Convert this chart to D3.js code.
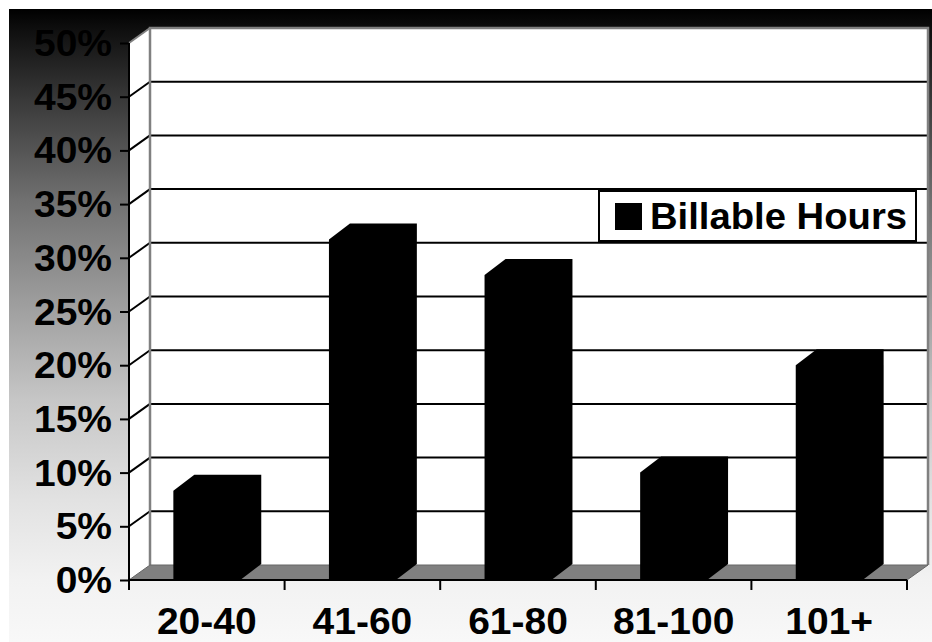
<!DOCTYPE html>
<html>
<head>
<meta charset="utf-8">
<script src="https://cdn.jsdelivr.net/npm/d3@7"></script>
<style>
  html, body { margin: 0; padding: 0; background: #ffffff; }
  svg { display: block; }
  text { font-family: "Liberation Sans", Arial, sans-serif; font-weight: bold; fill: #000; }
</style>
</head>
<body>
<svg id="chart" width="932" height="642"></svg>
<script>
// Share of people in each weekly billable-hours bracket
const categories = ["20-40", "41-60", "61-80", "81-100", "101+"];
const billableHours = [8.3, 31.7, 28.4, 10.0, 20.0];
const yTickValues = [0, 5, 10, 15, 20, 25, 30, 35, 40, 45, 50];
const seriesName = "Billable Hours";

const svg = d3.select("#chart");
const W = 932, H = 642;

// 3-D box geometry: front plane and the depth shift to the back wall
const front = { left: 129, right: 907, bottom: 580, top: 43 };
const depth = { dx: 21, dy: -15 };
const barDepth = { dx: 21, dy: -16 };

const x = d3.scaleBand().domain(categories).range([front.left, front.right]).padding(0);
const y = d3.scaleLinear().domain([0, 50]).range([front.bottom, front.top]);
const barW = x.bandwidth() * 0.43;

// Background: vertical black-to-white gradient
const defs = svg.append("defs");
const grad = defs.append("linearGradient")
  .attr("id", "bg").attr("gradientUnits", "userSpaceOnUse")
  .attr("x1", 0).attr("y1", 9).attr("x2", 0).attr("y2", H);
[[9, "#000000"], [27, "#0d0d0d"], [100, "#393939"], [200, "#707070"], [300, "#9c9c9c"],
 [400, "#c6c6c6"], [500, "#e2e2e2"], [580, "#f2f2f2"], [642, "#f8f8f8"]]
  .forEach(([py, c]) => grad.append("stop").attr("offset", (py - 9) / (H - 9)).attr("stop-color", c));

svg.append("rect").attr("x", 9).attr("y", 9).attr("width", W - 9).attr("height", H - 9)
  .attr("fill", "url(#bg)");

const g = svg.append("g");
const yb = v => y(v) + depth.dy;           // back-wall y for a value
const xBackL = front.left + depth.dx, xBackR = front.right + depth.dx;

// Back wall
g.append("rect")
  .attr("x", xBackL).attr("y", yb(50))
  .attr("width", xBackR - xBackL).attr("height", yb(0) - yb(50))
  .attr("fill", "#ffffff");

// Side wall
g.append("path")
  .attr("d", `M${front.left},${y(0)}L${front.left},${y(50)}L${xBackL},${yb(50)}L${xBackL},${yb(0)}Z`)
  .attr("fill", "#ffffff");

// Gridlines on back and side walls
const grid = yTickValues.filter(v => v > 0 && v < 50);
g.selectAll(".grid-back").data(grid).join("line")
  .attr("x1", xBackL).attr("x2", xBackR)
  .attr("y1", d => yb(d)).attr("y2", d => yb(d))
  .attr("stroke", "#000").attr("stroke-width", 2);
g.selectAll(".grid-side").data(grid).join("line")
  .attr("x1", front.left).attr("x2", xBackL)
  .attr("y1", d => y(d)).attr("y2", d => yb(d))
  .attr("stroke", "#000").attr("stroke-width", 2);

// Wall borders
g.append("path")
  .attr("d", `M${xBackL},${yb(0)}L${xBackL},${yb(50)}L${xBackR},${yb(50)}L${xBackR},${yb(0)}`)
  .attr("fill", "none").attr("stroke", "#808080").attr("stroke-width", 2.5);
g.append("line")
  .attr("x1", front.left).attr("y1", y(50)).attr("x2", xBackL).attr("y2", yb(50))
  .attr("stroke", "#808080").attr("stroke-width", 2);

// Floor
g.append("path")
  .attr("d", `M${front.left},${y(0)}L${front.right},${y(0)}L${xBackR},${yb(0)}L${xBackL},${yb(0)}Z`)
  .attr("fill", "#808080").attr("stroke", "#666666").attr("stroke-width", 1);

// Bars (solid black 3-D columns)
g.selectAll(".bar").data(categories.map((c, i) => ({ c, v: billableHours[i] }))).join("path")
  .attr("class", "bar")
  .attr("fill", "#000")
  .attr("d", d => {
    const xl = x(d.c) + (x.bandwidth() - barW) / 2, xr = xl + barW;
    const y0 = y(0), yt = y(d.v);
    return `M${xl},${y0}L${xl},${yt}L${xl + barDepth.dx},${yt + barDepth.dy}` +
           `L${xr + barDepth.dx},${yt + barDepth.dy}L${xr + barDepth.dx},${y0 + barDepth.dy}L${xr},${y0}Z`;
  });

// Value axis
const yAxis = g.append("g").attr("transform", `translate(${front.left},0)`)
  .call(d3.axisLeft(y).tickValues(yTickValues).tickSize(9).tickFormat(""));
yAxis.select(".domain").attr("stroke", "#000").attr("stroke-width", 2).attr("d", `M0,${y(0)}V${y(50)}`);
yAxis.selectAll(".tick line").attr("stroke", "#000").attr("stroke-width", 2);

g.selectAll(".ylab").data(yTickValues).join("text")
  .attr("class", "ylab")
  .attr("transform", d => `translate(112,${y(d) + 13}) scale(1.04,1)`)
  .attr("text-anchor", "end").attr("font-size", 37.5)
  .text(d => d + "%");

// Category axis: ticks at band boundaries, labels centered in bands
const bounds = categories.map(c => x(c)).concat([front.right]);
g.append("line")
  .attr("x1", front.left).attr("x2", front.right).attr("y1", y(0)).attr("y2", y(0))
  .attr("stroke", "#000").attr("stroke-width", 2);
g.selectAll(".xtick").data(bounds).join("line")
  .attr("x1", d => d).attr("x2", d => d).attr("y1", y(0)).attr("y2", y(0) + 10)
  .attr("stroke", "#000").attr("stroke-width", 2);
g.selectAll(".xlab").data(categories).join("text")
  .attr("class", "xlab")
  .attr("transform", d => `translate(${x(d) + x.bandwidth() / 2},634) scale(1.04,1)`)
  .attr("text-anchor", "middle").attr("font-size", 37.5)
  .text(d => d);

// Legend
const leg = g.append("g");
leg.append("rect").attr("x", 599).attr("y", 191).attr("width", 317).attr("height", 50)
  .attr("fill", "#fff").attr("stroke", "#000").attr("stroke-width", 2);
leg.append("rect").attr("x", 615).attr("y", 203).attr("width", 27).attr("height", 27).attr("fill", "#000");
leg.append("text").attr("transform", "translate(650,229) scale(1.02,1)")
  .attr("font-size", 37.5).text(seriesName);
</script>
</body>
</html>
